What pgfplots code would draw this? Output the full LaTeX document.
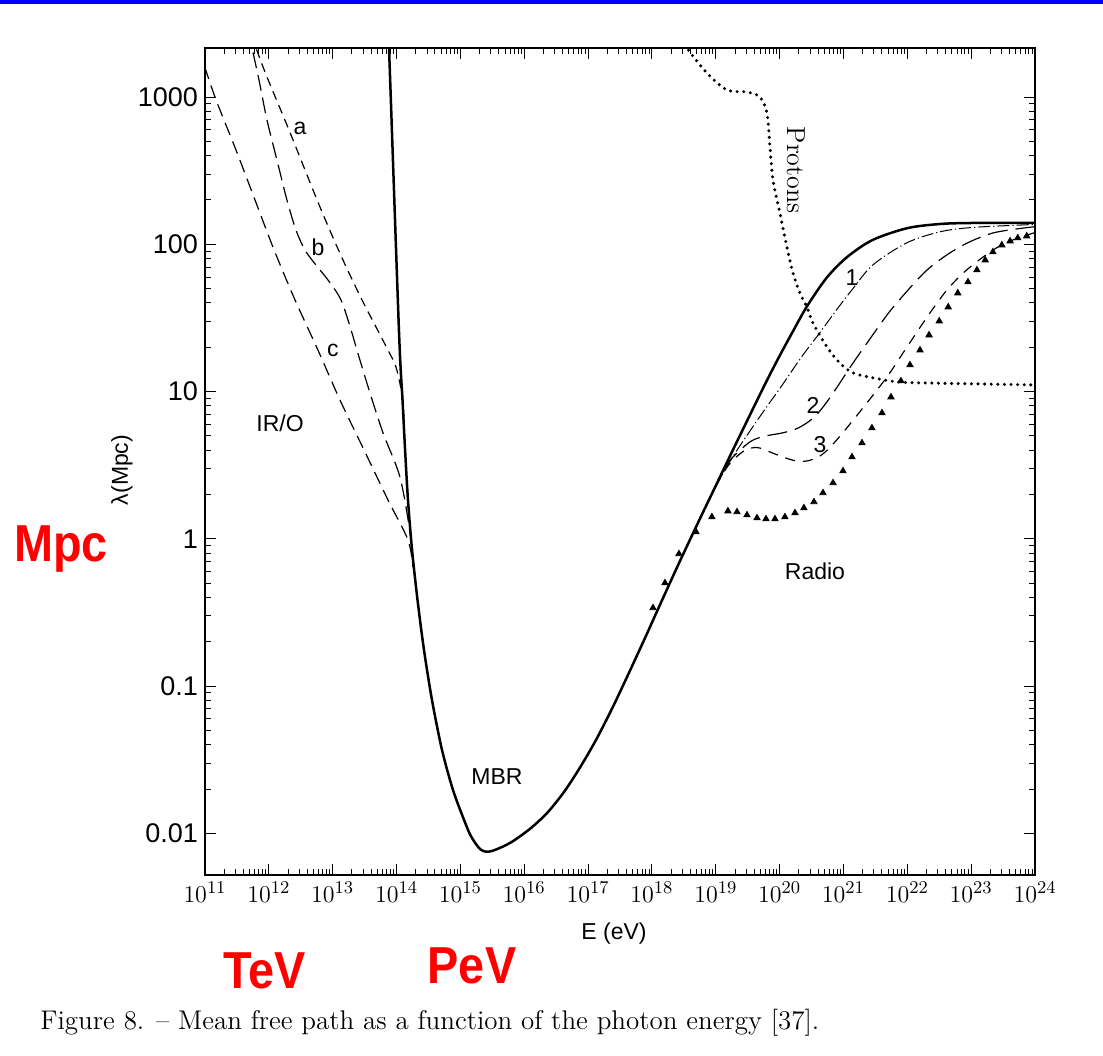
\documentclass[border=0pt]{standalone}
\usepackage{fontspec}
\usepackage{pgfplots}
\pgfplotsset{compat=1.18}
\newfontfamily\hv{Liberation Sans}
\definecolor{slideblue}{RGB}{0,0,255}
\definecolor{annred}{RGB}{255,0,0}

\begin{document}
\begin{tikzpicture}
\begin{scope}[x=0.5pt,y=-0.5pt]
\useasboundingbox (0,0) rectangle (1103,1055);
\fill[slideblue] (0,0) rectangle (1103,4);
\end{scope}

\begin{axis}[
    at={(102.5pt,-437.5pt)}, anchor=south west,
    scale only axis, width=415pt, height=413.5pt,
    xmode=log, ymode=log,
    xmin=1e11, xmax=1e24, ymin=0.00522, ymax=2153,
    xtick={1e11,1e12,1e13,1e14,1e15,1e16,1e17,1e18,1e19,1e20,1e21,1e22,1e23,1e24},
    ytick={0.01,0.1,1,10,100,1000},
    yticklabels={0.01,0.1,1,10,100,1000},
    xticklabel style={font=\fontsize{13}{13}\selectfont},
    yticklabel style={font=\hv\fontsize{13.5}{14}\selectfont},
    major tick length=5.5pt, minor tick length=3pt,
    axis line style={line width=0.75pt},
    every tick/.style={black, line width=0.5pt},
    clip=true,
]

% MBR
\addplot[black, line width=1.25pt, smooth] coordinates {
(7.08e13,3981) (7.62e13,2153) (1.09e14,26.2) (1.24e14,8.77) (1.36e14,4.02)
(1.51e14,1.837) (1.75e14,0.841) (2.13e14,0.385) (2.69e14,0.1762) (3.59e14,0.0805)
(5.15e14,0.0369) (7.66e14,0.01972) (1.14e15,0.01236) (1.41e15,0.00989) (1.74e15,0.00851)
(2.09e15,0.00776) (2.51e15,0.00752) (3.09e15,0.00759) (3.98e15,0.00791) (5.25e15,0.00836)
(7.08e15,0.00902) (1.26e16,0.01084) (2.29e16,0.01380) (4.17e16,0.01905)
(7.41e16,0.02786) (1.35e17,0.04365) (2.45e17,0.07244) (4.47e17,0.1259) (7.94e17,0.2163)
(1.48e18,0.3936) (2.75e18,0.7079) (5.62e18,1.365) (9.12e18,2.113) (1.86e19,4.027)
(3.55e19,7.161) (6.31e19,11.89) (1.02e20,17.78) (1.62e20,25.70) (2.69e20,38.02)
(5.50e20,59.57) (1.15e21,82.22) (2.88e21,107.2) (1e22,128.8) (3.24e22,137.4)
(1e23,139.6) (1e24,140.0)
};

% IR/O curves a, b, c
\addplot[black, line width=0.6pt, dash pattern=on 4.5pt off 3pt, smooth] coordinates {
(5.45e11,2636) (6.30e11,2153) (9.35e11,1368) (2.07e12,597) (6.32e12,179.1)
(1.45e13,78.2) (2.88e13,41.9) (4.76e13,27.5) (7.35e13,19.1) (9.79e13,14.7)
(1.22e14,9.48) (1.31e14,6.41)
};
\addplot[black, line width=0.6pt, dash pattern=on 8pt off 3.5pt, smooth] coordinates {
(4.71e11,2851) (5.45e11,2153) (7.01e11,1303) (9.35e11,698) (1.34e12,373)
(1.92e12,200) (2.66e12,125) (3.68e12,91.4) (5.47e12,72.3) (8.43e12,57.3)
(1.35e13,41.9) (1.94e13,26.2) (2.40e13,19.1) (3.71e13,10.26) (6.14e13,5.24)
(1.13e14,2.63) (1.63e14,1.096) (1.81e14,0.644)
};
\addplot[black, line width=0.6pt, dash pattern=on 6.5pt off 3.5pt, smooth] coordinates {
(7.50e10,2153) (1.00e11,1574) (1.49e11,955) (3.06e11,436.5) (6.07e11,200)
(1.21e12,91.4) (2.57e12,41.9) (5.89e12,19.1) (1.30e13,8.77) (3.09e13,4.02)
(7.35e13,1.837) (1.51e14,0.984) (1.81e14,0.644)
};

% Radio curves 1, 2, 3
\addplot[black, line width=0.5pt, dash pattern=on 6pt off 1.5pt on 0.6pt off 1.5pt, smooth] coordinates {
(5.62e18,1.365) (9.12e18,2.113) (1.86e19,3.631) (4.90e19,6.761) (1.12e20,11.22)
(2.24e20,17.38) (4.27e20,25.12) (7.94e20,36.31) (1.41e21,50.12) (2.88e21,72.44)
(9.77e21,102.3) (3.24e22,121.6) (1.07e23,130.3) (1e24,136.5)
};
\addplot[black, line width=0.6pt, dash pattern=on 10pt off 4pt, smooth] coordinates {
(5.62e18,1.365) (9.12e18,2.113) (1.58e19,3.311) (3.47e19,4.571) (6.31e19,5.012)
(1.12e20,5.248) (2.00e20,5.689) (3.55e20,6.761) (6.17e20,9.120) (1.41e21,15.63)
(3.16e21,25.70) (6.03e21,37.50) (2.04e22,66.99) (6.61e22,95.94) (2.19e23,119.4)
(1e24,131.8)
};
\addplot[black, line width=0.6pt, dash pattern=on 5pt off 4pt, smooth] coordinates {
(5.62e18,1.365) (9.12e18,2.113) (1.58e19,3.162) (2.82e19,3.981) (4.47e19,4.169)
(7.08e19,3.890) (1.12e20,3.597) (1.78e20,3.388) (2.69e20,3.381) (3.98e20,3.589)
(5.50e20,3.981) (8.91e20,5.012) (1.82e21,7.328) (4.79e21,12.56) (9.77e21,19.95)
(2.04e22,32.06) (4.17e22,48.98) (8.51e22,66.99) (2.19e23,91.41) (4.47e23,106.9)
(1e24,120.2)
};

% Radio triangles
\addplot[only marks, mark=triangle*, mark size=1.8pt, black] coordinates {
(1.04e18,0.34) (1.60e18,0.502) (2.65e18,0.791) (4.90e18,1.114) (8.69e18,1.409)
(1.55e19,1.545) (2.15e19,1.524) (3.08e19,1.452) (4.42e19,1.387) (6.11e19,1.365)
(8.45e19,1.365) (1.21e20,1.409) (1.74e20,1.500) (2.40e20,1.622) (3.45e20,1.782)
(4.78e20,2.051) (6.86e20,2.399) (9.82e20,2.891) (1.36e21,3.597) (1.95e21,4.477)
(2.79e21,5.662) (4.01e21,7.161) (5.55e21,9.183) (7.94e21,11.80) (1.10e22,15.17)
(1.58e22,19.14) (2.19e22,24.21) (3.16e22,30.13) (4.37e22,37.50) (6.17e22,46.67)
(8.91e22,55.46) (1.23e23,66.99) (1.66e23,78.16) (2.19e23,88.72) (3.02e23,98.86)
(4.07e23,105.2) (5.37e23,110.4) (7.41e23,113.8)
};

% Protons
\addplot[black, line width=1.7pt, line cap=round, dash pattern=on 0pt off 3.3pt, smooth] coordinates {
(3.16e18,2512) (3.54e18,2153) (7.28e18,1455) (1.50e19,1117) (3.08e19,1081)
(4.92e19,1000) (6.34e19,778) (7.06e19,458) (7.87e19,273.5) (1.01e20,163)
(1.30e20,95.9) (1.62e20,63.8) (2.08e20,46.7) (2.68e20,37.5) (3.33e20,29.2)
(5.52e20,20.1) (8.81e20,15.6) (1.41e21,13.4) (2.90e21,12.4) (7.67e21,11.6)
(3.24e22,11.4) (1e24,11.1)
};

\begin{scope}[every node/.style={font=\hv\fontsize{11.5}{12}\selectfont}]
\node at (axis cs:3.08e12,616) {a};
\node at (axis cs:5.9e12,96) {b};
\node at (axis cs:1.01e13,19.1) {c};
\node at (axis cs:1.5e12,6.1) {IR/O};
\node at (axis cs:3.74e15,0.0245) {MBR};
\node at (axis cs:3.58e20,0.605) {Radio};
\node at (axis cs:1.36e21,59) {1};
\node at (axis cs:3.33e20,8.1) {2};
\node at (axis cs:4.29e20,4.34) {3};
\end{scope}
\node[rotate=-90, font=\rmfamily\fontsize{13}{13}\selectfont] at (axis cs:1.80e20,319) {Protons};
\end{axis}

\begin{scope}[x=0.5pt,y=-0.5pt]
\node[font=\hv\fontsize{11.5}{12}\selectfont] at (614,934) {E (eV)};
\node[rotate=90, font=\hv\fontsize{11.5}{12}\selectfont] at (122,470) {λ(Mpc)};
\node[text=annred, font=\hv\bfseries\fontsize{26}{26}\selectfont] at (61,549) {\scalebox{0.9}[1]{Mpc}};
\node[text=annred, font=\hv\bfseries\fontsize{26}{26}\selectfont] at (265,971) {\scalebox{0.9}[1]{TeV}};
\node[text=annred, font=\hv\bfseries\fontsize{26}{26}\selectfont] at (472,966) {\scalebox{0.9}[1]{PeV}};
\node[anchor=west, font=\fontsize{13.5}{13.5}\selectfont, inner sep=0pt] at (40,1023) {Figure 8. -- Mean free path as a function of the photon energy [37].};
\end{scope}
\end{tikzpicture}
\end{document}
